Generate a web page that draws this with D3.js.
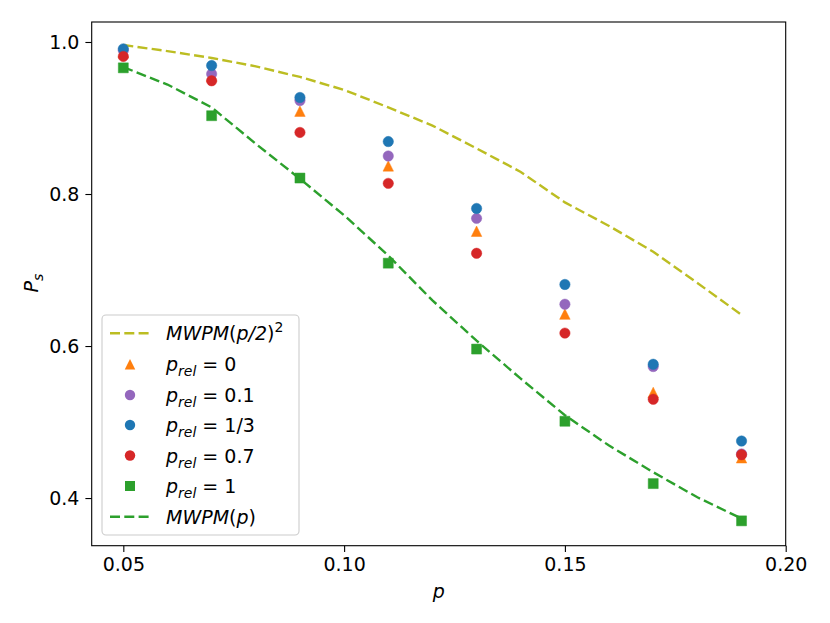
<!DOCTYPE html>
<html>
<head>
<meta charset="utf-8">
<script src="https://cdn.jsdelivr.net/npm/d3@7"></script>
<style>
  body { margin: 0; background: #fff; }
  text { font-family: "DejaVu Sans", sans-serif; fill: #000; }
</style>
</head>
<body>
<div class="chart"></div>
<script>

// data
const pPoints = [0.05, 0.07, 0.09, 0.11, 0.13, 0.15, 0.17, 0.19];
const pRel0   = [0.986, 0.955, 0.909, 0.837, 0.751, 0.642, 0.539, 0.453];
const pRel01  = [0.989, 0.958, 0.923, 0.850, 0.768, 0.655, 0.573, 0.458];
const pRel13  = [0.991, 0.969, 0.927, 0.869, 0.781, 0.681, 0.576, 0.475];
const pRel07  = [0.981, 0.949, 0.881, 0.814, 0.722, 0.617, 0.530, 0.457];
const pRel1   = [0.966, 0.903, 0.821, 0.709, 0.596, 0.501, 0.419, 0.370];

const pLine = [0.05, 0.06, 0.07, 0.08, 0.09, 0.10, 0.11, 0.12, 0.13, 0.14, 0.15, 0.16, 0.17, 0.18, 0.19];
const mwpmHalfSq = [0.996, 0.988, 0.979, 0.968, 0.954, 0.937, 0.914, 0.890, 0.860, 0.829, 0.789, 0.758, 0.724, 0.683, 0.641];
const mwpmFull   = [0.967, 0.944, 0.914, 0.866, 0.820, 0.772, 0.719, 0.660, 0.607, 0.557, 0.509, 0.469, 0.434, 0.401, 0.373];

const xTicks = [0.05, 0.10, 0.15, 0.20];
const yTicks = [0.4, 0.6, 0.8, 1.0];

const width = 830;
const height = 623;
const plot = { left: 91.7, right: 785.7, top: 22, bottom: 545.7 };

const svg = d3.select(".chart")
    .append("svg")
    .attr("width", width)
    .attr("height", height);

const x = d3.scaleLinear()
    .domain([0.04284, 0.2])
    .range([plot.left, plot.right]);

const y = d3.scaleLinear()
    .domain([0.3373, 1.0263])
    .range([plot.bottom, plot.top]);

// triangle like matplotlib "^"
const tri = {
    draw(ctx, size) {
        const h = Math.sqrt(size) / 2;
        ctx.moveTo(0, -h);
        ctx.lineTo(-h, h);
        ctx.lineTo(h, h);
        ctx.closePath();
    }
};

const series = [
    { vals: pRel0,  color: "#ff7f0e", shape: tri,              size: 110 },
    { vals: pRel01, color: "#9467bd", shape: d3.symbolCircle,  size: 85 },
    { vals: pRel13, color: "#1f77b4", shape: d3.symbolCircle,  size: 85 },
    { vals: pRel07, color: "#d62728", shape: d3.symbolCircle,  size: 85 },
    { vals: pRel1,  color: "#2ca02c", shape: d3.symbolSquare,  size: 100 }
];

const line = d3.line()
    .x(function (d) { return x(d[0]); })
    .y(function (d) { return y(d[1]); });

function dashed(vals, color) {
    svg.append("path")
        .datum(d3.zip(pLine, vals))
        .attr("d", line)
        .attr("fill", "none")
        .attr("stroke", color)
        .attr("stroke-width", 2.4)
        .attr("stroke-dasharray", "10,4.3");
}

dashed(mwpmHalfSq, "#bcbd22");

series.forEach(function (s) {
    svg.append("g")
        .selectAll("path")
        .data(d3.zip(pPoints, s.vals))
        .enter()
        .append("path")
            .attr("transform", function (d) { return "translate(" + x(d[0]) + "," + y(d[1]) + ")"; })
            .attr("d", d3.symbol().type(s.shape).size(s.size))
            .style("fill", s.color)
            .style("stroke", s.color)
            .style("stroke-width", 0.8)
            .style("stroke-opacity", 0.6);
});

dashed(mwpmFull, "#2ca02c");

// axes
const xAxis = svg.append("g")
    .attr("transform", "translate(0," + plot.bottom + ")")
    .call(d3.axisBottom(x).tickValues(xTicks).tickFormat(d3.format(".2f")).tickSizeOuter(0).tickSize(6.3).tickPadding(6));

const yAxis = svg.append("g")
    .attr("transform", "translate(" + plot.left + ",0)")
    .call(d3.axisLeft(y).tickValues(yTicks).tickFormat(d3.format(".1f")).tickSizeOuter(0).tickSize(6.3).tickPadding(6));

[xAxis, yAxis].forEach(function (a) {
    a.select(".domain").remove();
    a.selectAll("line").attr("stroke", "#000").attr("stroke-width", 1.1);
    a.selectAll("text").style("font-size", "19px").style("font-family", "DejaVu Sans");
});

svg.append("rect")
    .attr("x", plot.left)
    .attr("y", plot.top)
    .attr("width", plot.right - plot.left)
    .attr("height", plot.bottom - plot.top)
    .attr("fill", "none")
    .attr("stroke", "#000")
    .attr("stroke-width", 1.1);

// axis labels
svg.append("text")
    .attr("x", (plot.left + plot.right) / 2)
    .attr("y", 598)
    .attr("text-anchor", "middle")
    .style("font-size", "19px")
    .style("font-style", "italic")
    .text("p");

const yl = svg.append("text")
    .attr("transform", "translate(38,283) rotate(-90)")
    .attr("text-anchor", "middle")
    .style("font-size", "19px")
    .style("font-style", "italic");
yl.append("tspan").text("P");
yl.append("tspan").attr("dy", 5).style("font-size", "14px").text("s");

// legend
const legend = svg.append("g");

legend.append("rect")
    .attr("x", 102)
    .attr("y", 315)
    .attr("width", 197)
    .attr("height", 220)
    .attr("rx", 4)
    .attr("fill", "#fff")
    .attr("fill-opacity", 0.8)
    .attr("stroke", "#ccc")
    .attr("stroke-width", 1.1);

const rowY = [333.3, 364.3, 395, 425, 455.5, 486, 516.7];

function legendLine(cy, color) {
    legend.append("line")
        .attr("x1", 110).attr("x2", 150)
        .attr("y1", cy).attr("y2", cy)
        .attr("stroke", color)
        .attr("stroke-width", 2.4)
        .attr("stroke-dasharray", "10,4.3");
}

function mwpmLabel(cy, inner, sup) {
    const t = legend.append("text")
        .attr("x", 166)
        .attr("y", cy + 7)
        .style("font-size", "19px");
    t.append("tspan").style("font-style", "italic").text("MWPM");
    t.append("tspan").text("(");
    t.append("tspan").style("font-style", "italic").text(inner);
    t.append("tspan").text(")");
    if (sup) {
        t.append("tspan").attr("dy", -8).style("font-size", "14px").text(sup);
    }
}

legendLine(rowY[0], "#bcbd22");
mwpmLabel(rowY[0], "p/2", "2");

const relLabels = ["0", "0.1", "1/3", "0.7", "1"];
series.forEach(function (s, i) {
    const cy = rowY[i + 1];
    legend.append("path")
        .attr("transform", "translate(130," + cy + ")")
        .attr("d", d3.symbol().type(s.shape).size(s.size))
        .style("fill", s.color);
    const t = legend.append("text")
        .attr("x", 166)
        .attr("y", cy + 7)
        .style("font-size", "19px");
    t.append("tspan").style("font-style", "italic").text("p");
    t.append("tspan").attr("dy", 5).style("font-size", "14px").style("font-style", "italic").text("rel");
    t.append("tspan").attr("dy", -5).text(" = " + relLabels[i]);
});

legendLine(rowY[6], "#2ca02c");
mwpmLabel(rowY[6], "p", null);

</script>
</body>
</html>
